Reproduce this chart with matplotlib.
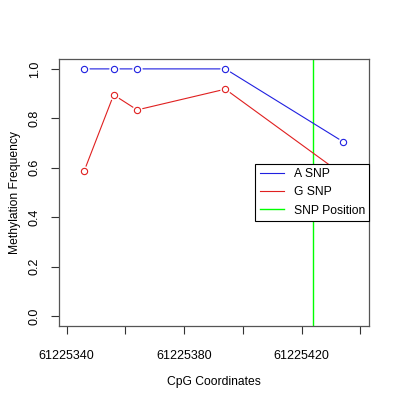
import matplotlib
matplotlib.use("Agg")
import matplotlib.pyplot as plt

plt.rcParams['font.family'] = ['Liberation Sans', 'DejaVu Sans']

# data
a_x = [61225346, 61225356, 61225364, 61225394, 61225434]
a_y = [1.0, 1.0, 1.0, 1.0, 0.706]
g_x = [61225346, 61225356, 61225364, 61225394, 61225434]
g_y = [0.588, 0.895, 0.834, 0.918, 0.572]
snp_pos = 61225424

x_ticks = [61225340, 61225360, 61225380, 61225400, 61225420, 61225440]
x_labels = ['61225340', '', '61225380', '', '61225420', '']
y_ticks = [0.0, 0.2, 0.4, 0.6, 0.8, 1.0]

fig = plt.figure(figsize=(4, 4), dpi=100)
ax = fig.add_axes([0.1475, 0.185, 0.775, 0.6675])

blue = '#2020e0'
red = '#e02020'
green = '#00ff00'

# lines with gaps at points (R type "b")
for xs, ys, c, lab in [(a_x, a_y, blue, 'A SNP'), (g_x, g_y, red, 'G SNP')]:
    ax.plot(xs, ys, color=c, lw=0.8, label=lab, zorder=2)
    ax.plot(xs, ys, 'o', ms=7.5, mfc='white', mec='none', zorder=3)
    ax.plot(xs, ys, 'o', ms=4.5, mfc='none', mec=c, mew=0.8, zorder=4)

ax.axvline(snp_pos, color=green, lw=1.0, label='SNP Position', zorder=1)

ax.set_xlim(61225337.4, 61225442.9)
ax.set_ylim(-0.04, 1.04)
ax.set_xticks(x_ticks)
ax.set_xticklabels(x_labels)
ax.set_yticks(y_ticks)
ax.set_yticklabels(['0.0', '0.2', '0.4', '0.6', '0.8', '1.0'], rotation=90, va='center')
ax.tick_params(labelsize=9, length=6, width=0.8, color='#333333', direction='out')
ax.tick_params(axis='x', pad=11)
ax.tick_params(axis='y', pad=7)
for s in ax.spines.values():
    s.set_color('#555555')
    s.set_linewidth(0.9)

ax.set_xlabel('CpG Coordinates', fontsize=8.7, labelpad=10)
ax.set_ylabel('Methylation Frequency', fontsize=8.7, labelpad=6)

leg = ax.legend(loc='center right', fontsize=8.7, frameon=True, fancybox=False,
                framealpha=1, borderaxespad=0, handlelength=2.0, handletextpad=0.8,
                borderpad=0.35, labelspacing=0.5)
leg.get_frame().set_edgecolor('black')
leg.get_frame().set_linewidth(0.8)
leg.set_zorder(10)

fig.savefig('out.png', dpi=100)
